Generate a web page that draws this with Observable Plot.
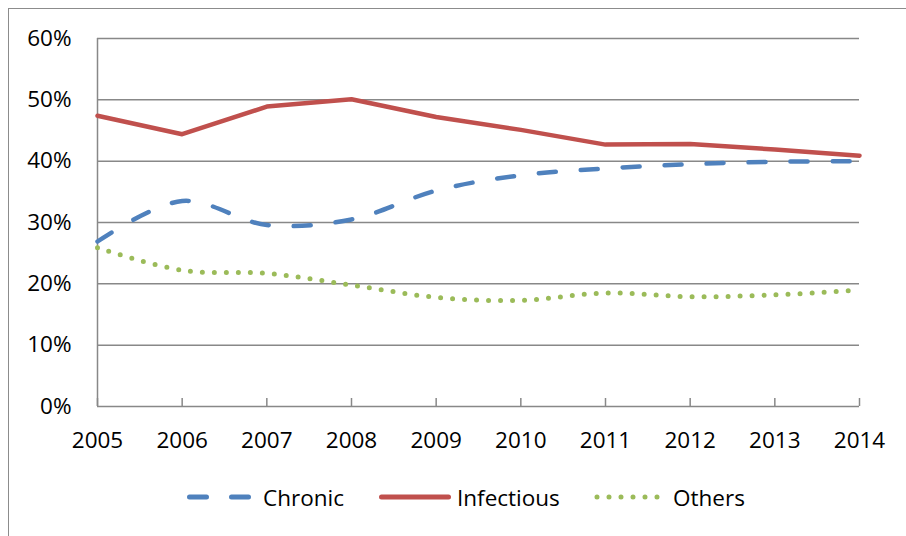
<!DOCTYPE html>
<html>
<head>
<meta charset="utf-8">
<script src="https://cdn.jsdelivr.net/npm/d3@7"></script>
<script src="https://cdn.jsdelivr.net/npm/@observablehq/plot@0.6"></script>
<style>
  html, body { margin: 0; padding: 0; background: #fff; }
  #wrap { position: relative; width: 906px; height: 536px; overflow: hidden; font-family: "Open Sans", sans-serif; }
  #border { position: absolute; left: 8px; top: 8px; width: 960px; height: 600px; border-left: 1.5px solid #8c8c8c; border-top: 1.5px solid #8c8c8c; pointer-events: none; }
  .leg { position: absolute; top: 480px; height: 34px; display: flex; align-items: center; font-size: 22.5px; color: #000; }
  .leg svg { display: block; }
</style>
</head>
<body>
<div id="wrap"></div>
<script>
const years = [2005, 2006, 2007, 2008, 2009, 2010, 2011, 2012, 2013, 2014];
const chronic    = [0.269, 0.335, 0.296, 0.305, 0.352, 0.377, 0.388, 0.395, 0.399, 0.400];
const infectious = [0.474, 0.444, 0.489, 0.501, 0.472, 0.451, 0.427, 0.428, 0.419, 0.409];
const others     = [0.259, 0.222, 0.217, 0.198, 0.178, 0.173, 0.185, 0.179, 0.182, 0.190];
const yTicks = [0, 0.1, 0.2, 0.3, 0.4, 0.5, 0.6];
const seriesNames = ["Chronic", "Infectious", "Others"];

const colors = {Chronic: "#4f81bd", Infectious: "#c0504d", Others: "#9bbb59"};
const rows = (vals) => years.map((y, i) => ({year: y, value: vals[i]}));
const yearFmt = d => String(d);
const pctFmt = d3.format(".0%");

const plot = Plot.plot({
  width: 906,
  height: 470,
  marginLeft: 97,
  marginRight: 47,
  marginTop: 38,
  marginBottom: 64,
  style: {background: "transparent", fontFamily: "'Open Sans', sans-serif", fontSize: "22.5px", color: "#000"},
  x: {domain: [2005, 2014], label: null},
  y: {domain: [0, 0.6], label: null},
  marks: [
    Plot.ruleY(yTicks, {stroke: "#888", strokeWidth: 1.5}),
    Plot.ruleX([2005], {stroke: "#888", strokeWidth: 1.5}),
    Plot.tickX(years, {x: d => d, insetTop: 360, stroke: "#888", strokeWidth: 1.5}),
    Plot.axisX({ticks: years, tickFormat: yearFmt, tickSize: 0, tickPadding: 26, fill: "#000", fontSize: 22.5, label: null}),
    Plot.axisY({ticks: yTicks, tickFormat: pctFmt, tickSize: 0, tickPadding: 26, fill: "#000", fontSize: 22.5, label: null}),
    Plot.line(rows(others), {x: "year", y: "value", stroke: colors.Others, strokeWidth: 5, strokeDasharray: "0,12", strokeLinecap: "round", curve: "catmull-rom"}),
    Plot.line(rows(chronic), {x: "year", y: "value", stroke: colors.Chronic, strokeWidth: 4.5, strokeDasharray: "17,25", strokeLinecap: "round", curve: "catmull-rom"}),
    Plot.line(rows(infectious), {x: "year", y: "value", stroke: colors.Infectious, strokeWidth: 4.5, strokeLinejoin: "round"})
  ]
});

const wrap = document.getElementById("wrap");
wrap.appendChild(plot);

// Legend
const legend = {
  Chronic:    {left: 183, w: 70, gap: 10, line: c => `<line x1="6.5" y1="10" x2="70" y2="10" stroke="${c}" stroke-width="5" stroke-linecap="round" stroke-dasharray="17,25"/>`},
  Infectious: {left: 376, w: 76, gap: 5,  line: c => `<line x1="5.5" y1="10" x2="72.5" y2="10" stroke="${c}" stroke-width="5" stroke-linecap="round"/>`},
  Others:     {left: 593, w: 68, gap: 12, line: c => `<line x1="4" y1="10" x2="68" y2="10" stroke="${c}" stroke-width="5" stroke-linecap="round" stroke-dasharray="0,12"/>`}
};
for (const name of seriesNames) {
  const L = legend[name];
  const div = document.createElement("div");
  div.className = "leg";
  div.style.left = L.left + "px";
  div.innerHTML = `<svg width="${L.w}" height="20">${L.line(colors[name])}</svg><span style="margin-left:${L.gap}px">${name}</span>`;
  wrap.appendChild(div);
}
const border = document.createElement("div");
border.id = "border";
wrap.appendChild(border);
</script>
</body>
</html>
